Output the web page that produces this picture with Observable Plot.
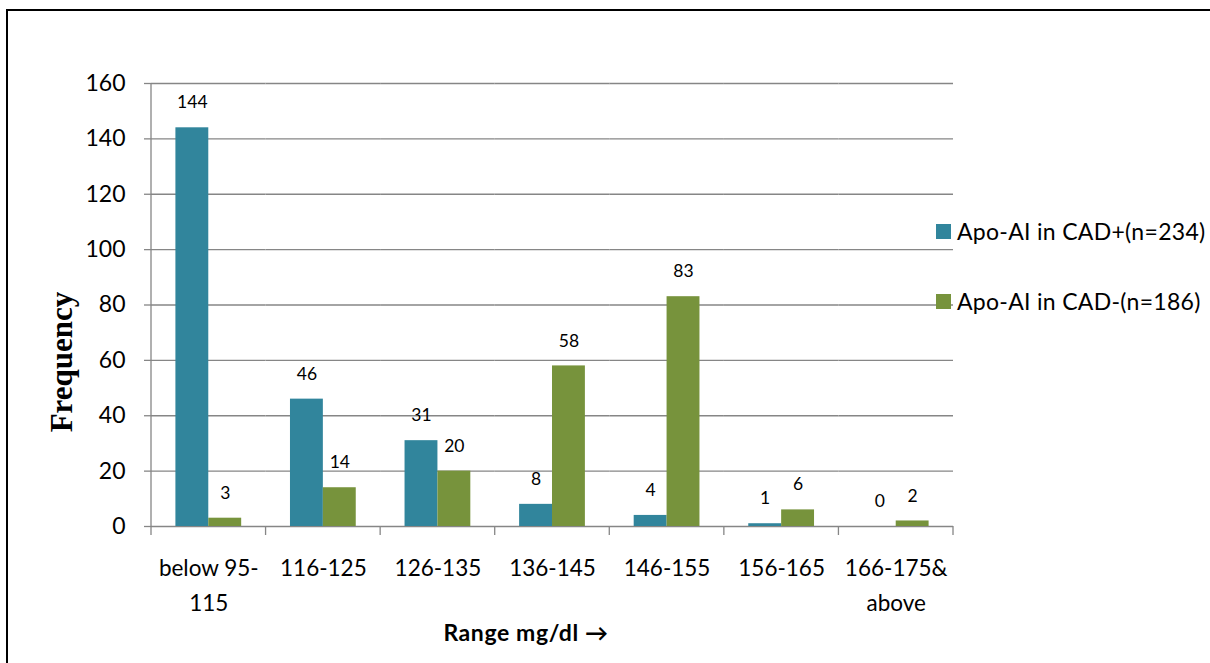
<!DOCTYPE html>
<html>
<head>
<meta charset="utf-8">
<script src="https://cdn.jsdelivr.net/npm/d3@7"></script>
<script src="https://cdn.jsdelivr.net/npm/@observablehq/plot@0.6"></script>
<style>
  html, body { margin: 0; padding: 0; background: #fff; }
  #wrap { position: relative; width: 1210px; height: 663px; overflow: hidden; font-family: Lato, "Open Sans", sans-serif; }
  #border { position: absolute; left: 6px; top: 9px; width: 1230px; height: 700px; border: 2.5px solid #000; box-sizing: border-box; pointer-events: none; }
  .abs { position: absolute; white-space: nowrap; }
  .sw { position: absolute; width: 15px; height: 15px; }
</style>
</head>
<body>
<div id="wrap">
  <div id="chart"></div>
  <div id="border"></div>
</div>
<script>
const categories = ["below 95-\n115", "116-125", "126-135", "136-145", "146-155", "156-165", "166-175&\nabove"];
const seriesNames = ["Apo-AI in CAD+(n=234)", "Apo-AI in CAD-(n=186)"];
const cadPositive = [144, 46, 31, 8, 4, 1, 0];
const cadNegative = [3, 14, 20, 58, 83, 6, 2];
const yTicks = [0, 20, 40, 60, 80, 100, 120, 140, 160];
const colors = ["#31859C", "#77933C"];
const xTitle = "Range mg/dl \u2192";
const yTitle = "Frequency";

const data = categories.flatMap((c, i) => [
  {cat: c, series: seriesNames[0], value: cadPositive[i]},
  {cat: c, series: seriesNames[1], value: cadNegative[i]}
]);

const grey = "#868686";

const plot = Plot.plot({
  width: 1210,
  height: 663,
  marginLeft: 151,
  marginRight: 257,
  marginTop: 83,
  marginBottom: 137,
  style: {fontFamily: "Lato, 'Open Sans', sans-serif", background: "transparent", overflow: "visible"},
  fx: {domain: categories, padding: 0, round: false, axis: null},
  x: {domain: seriesNames, paddingInner: 0, paddingOuter: 0.742, round: false, axis: null},
  y: {domain: [0, 160], axis: null},
  color: {domain: seriesNames, range: colors},
  marks: [
    Plot.gridY(yTicks, {stroke: grey, strokeOpacity: 1, strokeWidth: 1.3}),
    Plot.axisY(yTicks, {tickSize: 7, tickPadding: 19, fontSize: 23, stroke: grey, color: "#000", label: null, strokeWidth: 1.3}),
    Plot.barY(data, {fx: "cat", x: "series", y: "value", fill: "series"}),
    Plot.text(data, {fx: "cat", x: "series", y: "value", text: d => String(d.value), dy: -25, fontSize: 17.5, fill: "#000"}),
    Plot.text(categories, {fx: d => d, text: d => d, frameAnchor: "bottom", lineAnchor: "top", dy: 25, lineHeight: 1.55, fontSize: 22.5, fill: "#000"})
  ]
});

document.getElementById("chart").appendChild(plot);

// axis line and category-boundary tick marks, from the library's scales
const svg = d3.select(plot.tagName.toLowerCase() === "svg" ? plot : plot.querySelector("svg"));
const fx = plot.scale("fx");
const y = plot.scale("y");
const bounds = categories.map(c => fx.apply(c)).concat([fx.apply(categories[categories.length - 1]) + fx.bandwidth]);
const y0 = y.apply(0), yTop = y.apply(160);
const g = svg.append("g").attr("stroke", grey).attr("stroke-width", 1.3);
g.append("line").attr("x1", bounds[0]).attr("x2", bounds[0]).attr("y1", yTop).attr("y2", y0);
g.selectAll("line.t").data(bounds).join("line").attr("class", "t")
  .attr("x1", d => d).attr("x2", d => d).attr("y1", y0).attr("y2", y0 + 9);

// titles and legend
const wrap = document.getElementById("wrap");
function addText(txt, css) {
  const d = document.createElement("div");
  d.className = "abs";
  d.textContent = txt;
  Object.assign(d.style, css);
  wrap.appendChild(d);
  return d;
}
addText(xTitle, {left: "526px", top: "632px", transform: "translate(-50%,-50%)", fontWeight: "700", fontSize: "23px", letterSpacing: "0.6px"});
addText(yTitle, {left: "62px", top: "362px", transform: "translate(-50%,-50%) rotate(-90deg)", fontFamily: "'Liberation Serif', serif", fontWeight: "700", fontSize: "31px"});

const legendY = [231, 301];
seriesNames.forEach((s, i) => {
  const sw = document.createElement("div");
  sw.className = "sw";
  sw.style.left = "936px";
  sw.style.top = (legendY[i] - 7.5) + "px";
  sw.style.background = colors[i];
  wrap.appendChild(sw);
  addText(s, {left: "957px", top: legendY[i] + "px", transform: "translateY(-50%)", fontSize: "23px", letterSpacing: "0.3px"});
});
</script>
</body>
</html>
